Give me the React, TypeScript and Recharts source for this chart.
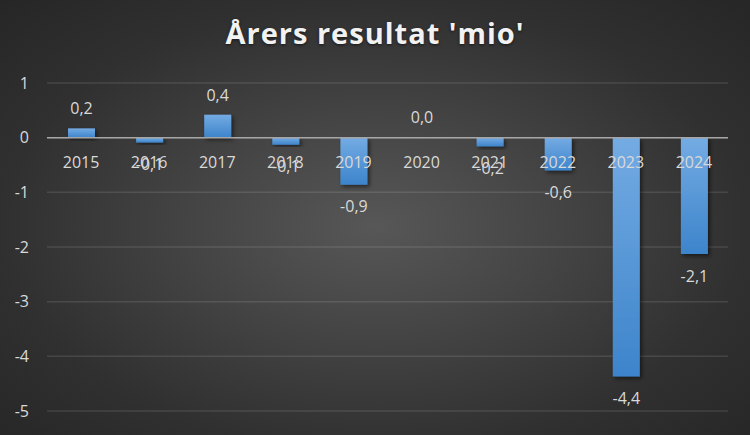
import React from 'react';
import {
  ComposedChart,
  Bar,
  Line,
  XAxis,
  YAxis,
  CartesianGrid,
  ReferenceLine,
  LabelList,
  Rectangle,
} from 'recharts';

const years = ['2015', '2016', '2017', '2018', '2019', '2020', '2021', '2022', '2023', '2024'];
const results = [0.17, -0.09, 0.42, -0.13, -0.86, 0.01, -0.16, -0.6, -4.37, -2.13];
const yTicks = [1, 0, -1, -2, -3, -4, -5];
const title = "Årers resultat 'mio'";

const data = years.map((year, i) => ({ year, result: results[i], axis: 0 }));

const FONT = '"Open Sans", "Noto Sans", sans-serif';
const LABEL_COLOR = '#d9d9d9';
const fmt = (v: number) => v.toFixed(1).replace('.', ',');

function ValueLabel(props: any) {
  const { x, y, width, height, value } = props;
  const top = Math.min(y, y + height);
  const bottom = Math.max(y, y + height);
  const cx = x + width / 2;
  const ty = value >= 0 ? top - 14 : bottom + 27.5;
  return (
    <text x={cx} y={ty} textAnchor="middle" fill={LABEL_COLOR} fontSize={16} fontFamily={FONT}>
      {fmt(value)}
    </text>
  );
}

function YearLabel(props: any) {
  const { x, y, value } = props;
  return (
    <text x={x} y={y + 30} textAnchor="middle" fill={LABEL_COLOR} fontSize={16} fontFamily={FONT}>
      {value}
    </text>
  );
}

function ShadowBar(props: any) {
  return <Rectangle {...props} fill="url(#barGrad)" filter="url(#barShadow)" />;
}

export default function App() {
  return (
    <div
      style={{
        position: 'absolute',
        left: 0,
        top: 0,
        width: 750,
        height: 435,
        background:
          'radial-gradient(ellipse farthest-corner at 50% 52%, #575757 0%, #444444 35%, #303030 70%, #262626 100%)',
        overflow: 'hidden',
      }}
    >
      <div
        style={{
          position: 'absolute',
          left: 0,
          top: 13,
          width: 750,
          textAlign: 'center',
          color: '#f2f2f2',
          fontFamily: FONT,
          fontWeight: 700,
          fontSize: 29,
          letterSpacing: 1,
          lineHeight: '40px',
          textShadow: '0 1px 3px rgba(0,0,0,0.6)',
        }}
      >
        {title}
      </div>
      <div style={{ position: 'absolute', left: 0, top: 0 }}>
        <ComposedChart
          width={750}
          height={435}
          data={data}
          margin={{ top: 83, right: 22, bottom: 24, left: 0 }}
        >
          <defs>
            <linearGradient id="barGrad" x1="0" y1="0" x2="0" y2="1">
              <stop offset="0%" stopColor="#74abe3" />
              <stop offset="100%" stopColor="#3d84cb" />
            </linearGradient>
            <filter id="barShadow" x="-30%" y="-30%" width="160%" height="160%">
              <feDropShadow dx="2" dy="2" stdDeviation="2" floodColor="#000" floodOpacity="0.55" />
            </filter>
          </defs>
          <CartesianGrid vertical={false} stroke="#ffffff" strokeOpacity={0.11} strokeWidth={1.5} />
          <XAxis dataKey="year" hide />
          <YAxis
            domain={[-5, 1]}
            ticks={yTicks}
            width={47}
            axisLine={false}
            tickLine={false}
            tickSize={0}
            tickMargin={18}
            tick={{ fill: LABEL_COLOR, fontSize: 16, fontFamily: FONT }}
            interval={0}
          />
          <Bar dataKey="result" barSize={27} isAnimationActive={false} shape={ShadowBar}>
            <LabelList dataKey="result" content={ValueLabel} />
          </Bar>
          <ReferenceLine y={0} stroke="#a6a6a6" strokeWidth={1.5} />
          <Line
            dataKey="axis"
            stroke="none"
            dot={false}
            activeDot={false}
            isAnimationActive={false}
          >
            <LabelList dataKey="year" content={YearLabel} />
          </Line>
        </ComposedChart>
      </div>
    </div>
  );
}
